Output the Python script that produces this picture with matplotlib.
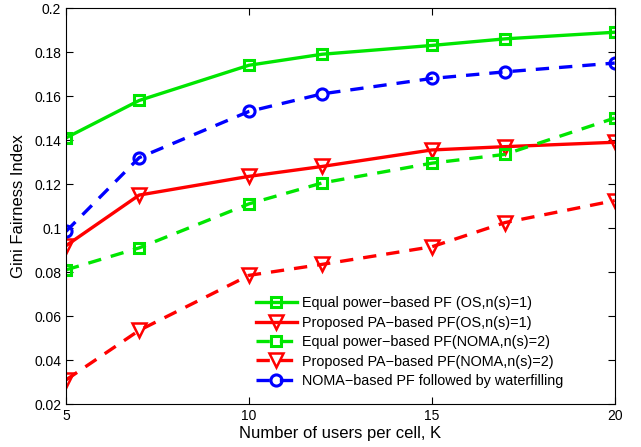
import matplotlib
matplotlib.use("Agg")
import matplotlib.pyplot as plt

plt.rcParams['font.family'] = ['Liberation Sans', 'DejaVu Sans']

K = [5, 7, 10, 12, 15, 17, 20]
eq_os = [0.141, 0.158, 0.174, 0.179, 0.183, 0.186, 0.189]
pa_os = [0.092, 0.115, 0.1235, 0.128, 0.1355, 0.137, 0.139]
eq_noma = [0.081, 0.091, 0.111, 0.1205, 0.1295, 0.1335, 0.150]
pa_noma = [0.031, 0.0535, 0.0785, 0.0835, 0.0915, 0.1025, 0.1125]
noma_wf = [0.0985, 0.132, 0.153, 0.161, 0.168, 0.171, 0.175]

labels = ["Equal power\u2212based PF (OS,n(s)=1)",
          "Proposed PA\u2212based PF(OS,n(s)=1)",
          "Equal power\u2212based PF(NOMA,n(s)=2)",
          "Proposed PA\u2212based PF(NOMA,n(s)=2)",
          "NOMA\u2212based PF followed by waterfilling"]
xticks = [5, 10, 15, 20]
yticks = [0.02, 0.04, 0.06, 0.08, 0.1, 0.12, 0.14, 0.16, 0.18, 0.2]

fig = plt.figure(figsize=(6.41, 4.47), dpi=100)
ax = fig.add_axes([0.103, 0.096, 0.856, 0.886])

green = '#00e600'
red = '#ff0000'
blue = '#0000ff'
lw = 2.4
ms = 7
mew = 2.2
ax.plot(K, eq_os, '-', color=green, lw=lw, marker='s', ms=ms, mfc='none', mew=mew, label=labels[0])
ax.plot(K, pa_os, '-', color=red, lw=lw, marker='v', ms=ms + 3, mfc='none', mew=1.8, label=labels[1])
ax.plot(K, eq_noma, '--', color=green, lw=lw, marker='s', ms=ms, mfc='none', mew=mew, label=labels[2], dashes=(4, 3))
ax.plot(K, pa_noma, '--', color=red, lw=lw, marker='v', ms=ms + 3, mfc='none', mew=1.8, label=labels[3], dashes=(4, 3))
ax.plot(K, noma_wf, '--', color=blue, lw=lw, marker='o', ms=ms + 1, mfc='none', mew=mew, label=labels[4], dashes=(4, 3))

ax.set_xlim(5, 20)
ax.set_ylim(0.02, 0.2)
ax.set_xticks(xticks)
ax.set_xticklabels([str(v) for v in xticks])
ax.set_yticks(yticks)
ax.set_yticklabels(["%g" % v for v in yticks])
ax.tick_params(direction='in', top=True, right=True, labelsize=10, length=5)
ax.set_xlabel("Number of users per cell, K", fontsize=12, labelpad=2)
ax.set_ylabel("Gini Fairness Index", fontsize=12, labelpad=6)

leg = ax.legend(loc='lower left', bbox_to_anchor=(0.328, 0.015), frameon=False,
                fontsize=10.4, handlelength=2.8, handletextpad=0.35, labelspacing=0.38,
                borderpad=0.2)

fig.savefig("out.png", dpi=100)
